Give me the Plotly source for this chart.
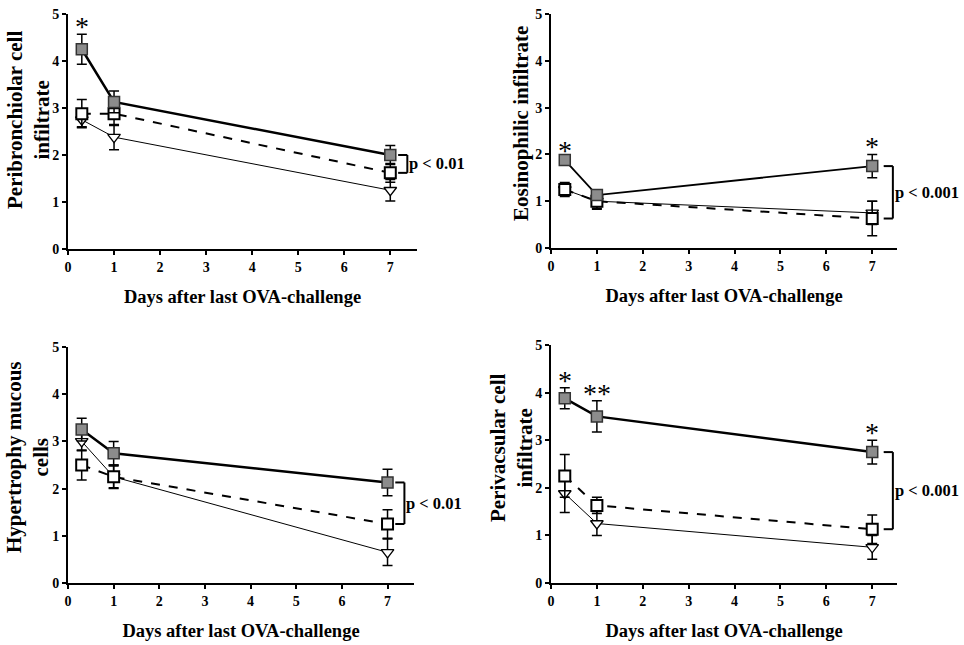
import plotly.graph_objects as go

days = [0.3, 1, 7]

# Panel data: (gray filled squares, open squares dashed, open triangles)
p1_ova = [4.25, 3.13, 2.0];   p1_ova_err = [0.32, 0.23, 0.2]
p1_sq = [2.88, 2.88, 1.62];   p1_sq_err = [0.3, 0.25, 0.2]
p1_tri = [2.75, 2.38, 1.25];  p1_tri_err = [0.15, 0.27, 0.23]

p2_ova = [1.88, 1.13, 1.75];  p2_ova_err = [0.05, 0.08, 0.25]
p2_sq = [1.25, 1.0, 0.63];    p2_sq_err = [0.15, 0.17, 0.37]
p2_tri = [1.25, 1.0, 0.75];   p2_tri_err = [0.12, 0.15, 0.25]

p3_ova = [3.25, 2.75, 2.13];  p3_ova_err = [0.24, 0.25, 0.28]
p3_sq = [2.5, 2.25, 1.25];    p3_sq_err = [0.32, 0.23, 0.3]
p3_tri = [3.0, 2.25, 0.65];   p3_tri_err = [0.2, 0.25, 0.28]

p4_ova = [3.88, 3.5, 2.75];   p4_ova_err = [0.22, 0.33, 0.25]
p4_sq = [2.25, 1.63, 1.13];   p4_sq_err = [0.45, 0.17, 0.3]
p4_tri = [1.88, 1.25, 0.75];  p4_tri_err = [0.4, 0.25, 0.25]

titles = ["Peribronchiolar cell<br>infiltrate", "Eosinophilic infiltrate",
          "Hypertrophy mucous<br>cells", "Perivacsular cell<br>infiltrate"]
xtitle = "Days after last OVA-challenge"
pvals = ["p < 0.01", "p < 0.001", "p < 0.01", "p < 0.001"]
stars = [[(0.3, "*")], [(0.3, "*"), (7, "*")], [], [(0.3, "*"), (1, "**"), (7, "*")]]

panels = [
    (p1_ova, p1_ova_err, p1_sq, p1_sq_err, p1_tri, p1_tri_err),
    (p2_ova, p2_ova_err, p2_sq, p2_sq_err, p2_tri, p2_tri_err),
    (p3_ova, p3_ova_err, p3_sq, p3_sq_err, p3_tri, p3_tri_err),
    (p4_ova, p4_ova_err, p4_sq, p4_sq_err, p4_tri, p4_tri_err),
]

W, H = 964, 645
FONT = "Liberation Serif"
# pixel boxes on screen (left, right, top, bottom)
boxes = [(68, 417, 14, 249), (551, 897, 14, 248), (68, 414, 347, 583), (551, 897, 345, 583)]
xmax = [7.58, 7.54, 7.58, 7.54]
# y-title centres on screen (x, y)
ytitle_pos = [(28, 120), (521, 124), (28, 457), (511, 448)]


def px(x):
    return x / W


def py(y):
    return 1 - y / H


fig = go.Figure()
layout = dict(width=W, height=H, margin=dict(l=0, r=0, t=0, b=0, autoexpand=False),
              paper_bgcolor="white", plot_bgcolor="white", showlegend=False,
              font=dict(family=FONT, color="black"))
shapes = []
annotations = []

for i, (ova, ova_e, sq, sq_e, tri, tri_e) in enumerate(panels):
    n = i + 1
    xa = "x" if n == 1 else f"x{n}"
    ya = "y" if n == 1 else f"y{n}"
    l, r, t, b = boxes[i]
    xdom = [px(l), px(r)]
    ydom = [py(b), py(t)]
    common = dict(showgrid=False, zeroline=False, showline=True, linecolor="black",
                  linewidth=2, ticks="outside", tickcolor="black", tickwidth=2, ticklen=4,
                  automargin=False,
                  tickfont=dict(family=FONT, size=14, color="black", weight="bold"))
    layout["xaxis" if n == 1 else f"xaxis{n}"] = dict(
        common, domain=xdom, range=[0, xmax[i]], tickvals=[0, 1, 2, 3, 4, 5, 6, 7],
        anchor=ya, title=dict(text=xtitle, standoff=16,
                              font=dict(family=FONT, size=18.5, weight="bold")))
    layout["yaxis" if n == 1 else f"yaxis{n}"] = dict(
        common, domain=ydom, range=[0, 5], tickvals=[0, 1, 2, 3, 4, 5], anchor=xa)

    tx, ty = ytitle_pos[i]
    annotations.append(dict(x=px(tx), y=py(ty), xref="paper", yref="paper",
                            text=titles[i], showarrow=False, textangle=-90,
                            xanchor="center", yanchor="middle",
                            font=dict(family=FONT, size=21, color="black", weight="bold")))

    eb = lambda e: dict(type="data", array=e, visible=True, color="black", thickness=1.5, width=5)
    fig.add_trace(go.Scatter(x=days, y=tri, xaxis=xa, yaxis=ya, mode="lines+markers",
                             line=dict(color="black", width=1),
                             marker=dict(symbol="triangle-down", size=11, color="white",
                                         line=dict(color="black", width=1.3)),
                             error_y=eb(tri_e)))
    fig.add_trace(go.Scatter(x=days, y=sq, xaxis=xa, yaxis=ya, mode="lines+markers",
                             line=dict(color="black", width=2, dash="dash"),
                             marker=dict(symbol="square", size=11, color="white",
                                         line=dict(color="black", width=2)),
                             error_y=eb(sq_e)))
    fig.add_trace(go.Scatter(x=days, y=ova, xaxis=xa, yaxis=ya, mode="lines+markers",
                             line=dict(color="black", width=2.5 if i != 1 else 1.8),
                             marker=dict(symbol="square", size=11, color="#8c8c8c",
                                         line=dict(color="#333333", width=1.5)),
                             error_y=eb(ova_e)))

    # bracket between OVA and open-square group at day 7
    y_hi, y_lo = ova[2], sq[2]
    xb0, xb1 = (7.17, 7.37) if i in (0, 2) else (7.25, 7.45)
    for yy in (y_hi, y_lo):
        shapes.append(dict(type="line", xref=xa, yref=ya, x0=xb0, x1=xb1, y0=yy, y1=yy,
                           line=dict(color="black", width=2)))
    shapes.append(dict(type="line", xref=xa, yref=ya, x0=xb1, x1=xb1, y0=y_lo, y1=y_hi,
                       line=dict(color="black", width=2)))
    annotations.append(dict(x=xb1, y=(y_hi + y_lo) / 2, xref=xa, yref=ya,
                            text=pvals[i], showarrow=False, xanchor="left", yanchor="middle",
                            xshift=0,
                            font=dict(family=FONT, size=16.5, color="black", weight="bold")))
    for (sx, st) in stars[i]:
        k = days.index(sx)
        annotations.append(dict(x=sx, y=ova[k] + ova_e[k], xref=xa, yref=ya, text=st,
                                showarrow=False, yanchor="bottom", yshift=-10,
                                font=dict(family=FONT, size=28, color="black")))

layout["shapes"] = shapes
layout["annotations"] = annotations
fig.update_layout(**layout)
fig.write_html("out.html", config={"displayModeBar": False},
               post_script="document.body.style.margin='0';document.body.style.overflow='hidden';")
